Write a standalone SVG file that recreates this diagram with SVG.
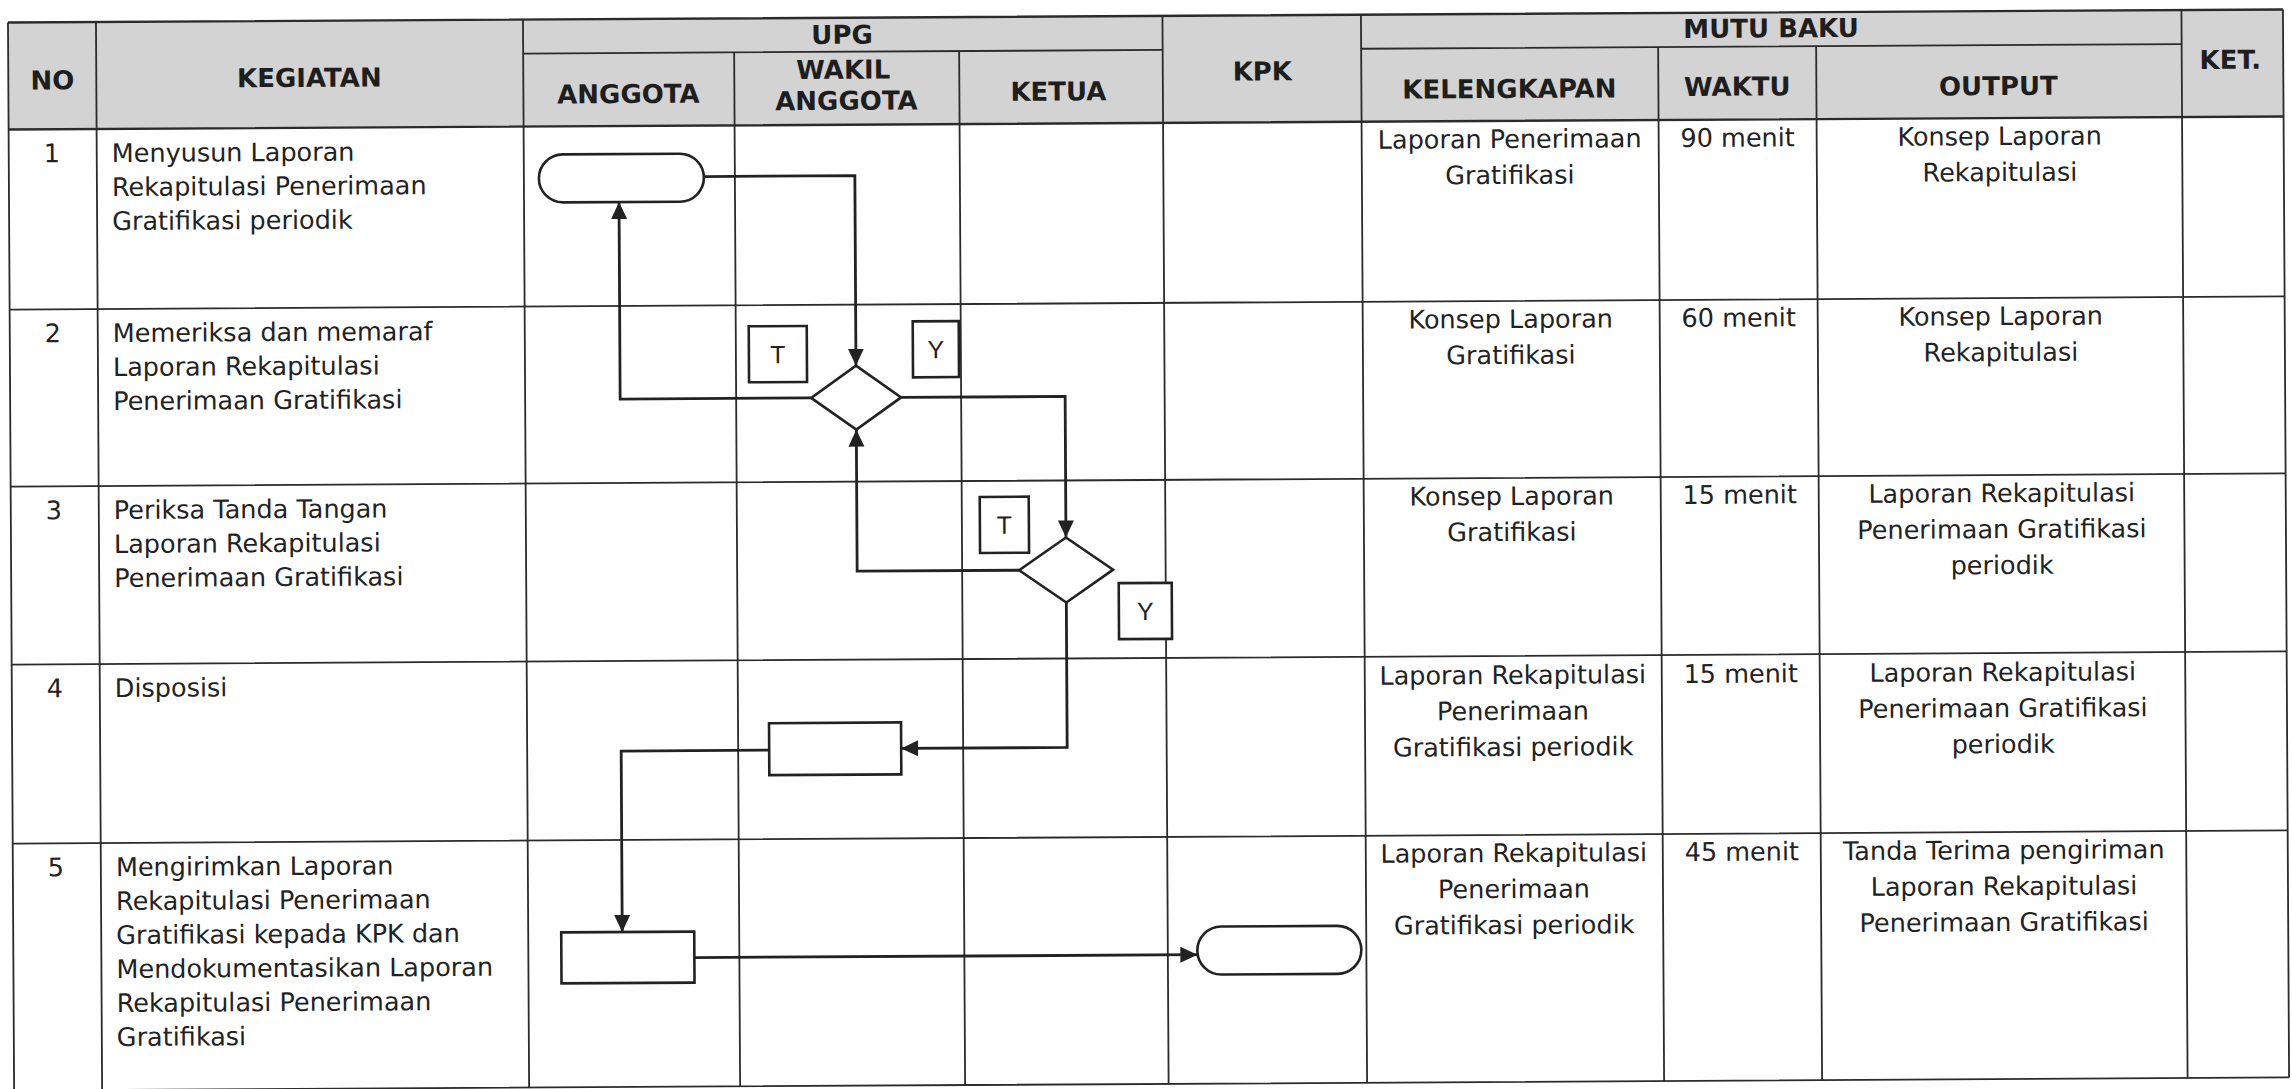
<svg xmlns="http://www.w3.org/2000/svg" width="2292" height="1089" viewBox="0 0 2292 1089">
<style>
.grid{stroke:#2b2b2b;stroke-width:1.8;fill:none}
.gridb{stroke:#2b2b2b;stroke-width:2.4;fill:none}
.hdr{font-family:'DejaVu Sans',Verdana,sans-serif;font-weight:bold;font-size:26px;fill:#1e1e1e;text-anchor:middle}
.txt{font-family:'DejaVu Sans',Verdana,sans-serif;font-size:25.5px;fill:#222}
.c{text-anchor:middle}
.shape{fill:#fff;stroke:#222;stroke-width:2.6}
.conn{fill:none;stroke:#222;stroke-width:2.8}
.lbl{font-family:'Liberation Sans',Arial,sans-serif;font-size:25px;fill:#222;text-anchor:middle}
</style>
<defs>
<marker id="arr" markerUnits="userSpaceOnUse" markerWidth="17" markerHeight="17" refX="17" refY="8.5" orient="auto" viewBox="0 0 17 17"><path d="M0,0.5 L17,8.5 L0,16.5 z" fill="#222"/></marker>
</defs>
<rect x="0" y="0" width="2292" height="1089" fill="#fff"/>
<g transform="rotate(-0.33 1146 545)">
<g id="table">
<rect x="11" y="16" width="2275" height="107" fill="#d3d3d3"/>
<path class="gridb" d="M11,16H2286M11,123H2286"/>
<path class="grid" d="M526,50H1165.5M1364,50H2184.5M11,303H2286M11,480H2286M11,658H2286M11,837H2286M11,1084H2286"/>
<path class="grid" d="M11,16V1084M99,16V1084M526,16V1084M737,50V1084M962,50V1084M1165.5,16V1084M1364,16V1084M1661,50V1084M1819,50V1084M2184.5,16V1084M2286,16V1084"/>
<text class="hdr" x="55" y="83">NO</text>
<text class="hdr" x="312" y="82">KEGIATAN</text>
<text class="hdr" x="845" y="42">UPG</text>
<text class="hdr" x="631" y="100">ANGGOTA</text>
<text class="hdr" x="846" y="77">WAKIL</text>
<text class="hdr" x="849" y="108">ANGGOTA</text>
<text class="hdr" x="1061" y="100">KETUA</text>
<text class="hdr" x="1265" y="81">KPK</text>
<text class="hdr" x="1774" y="41">MUTU BAKU</text>
<text class="hdr" x="1512" y="100">KELENGKAPAN</text>
<text class="hdr" x="1740" y="99">WAKTU</text>
<text class="hdr" x="2001" y="100">OUTPUT</text>
<text class="hdr" x="2233" y="75">KET.</text>
</g>
<g id="row1">
<text class="txt c" x="54" y="156">1</text>
<text class="txt" x="114" y="156">Menyusun Laporan</text>
<text class="txt" x="114" y="190">Rekapitulasi Penerimaan</text>
<text class="txt" x="114" y="224">Gratifikasi periodik</text>
<text class="txt c" x="1512" y="150">Laporan Penerimaan</text>
<text class="txt c" x="1512" y="186">Gratifikasi</text>
<text class="txt c" x="1740" y="150">90 menit</text>
<text class="txt c" x="2002" y="150">Konsep Laporan</text>
<text class="txt c" x="2002" y="186">Rekapitulasi</text>
</g>
<g id="row2">
<text class="txt c" x="54" y="336">2</text>
<text class="txt" x="114" y="336">Memeriksa dan memaraf</text>
<text class="txt" x="114" y="370">Laporan Rekapitulasi</text>
<text class="txt" x="114" y="404">Penerimaan Gratifikasi</text>
<text class="txt c" x="1512" y="330">Konsep Laporan</text>
<text class="txt c" x="1512" y="366">Gratifikasi</text>
<text class="txt c" x="1740" y="330">60 menit</text>
<text class="txt c" x="2002" y="330">Konsep Laporan</text>
<text class="txt c" x="2002" y="366">Rekapitulasi</text>
</g>
<g id="row3">
<text class="txt c" x="54" y="513">3</text>
<text class="txt" x="114" y="513">Periksa Tanda Tangan</text>
<text class="txt" x="114" y="547">Laporan Rekapitulasi</text>
<text class="txt" x="114" y="581">Penerimaan Gratifikasi</text>
<text class="txt c" x="1512" y="507">Konsep Laporan</text>
<text class="txt c" x="1512" y="543">Gratifikasi</text>
<text class="txt c" x="1740" y="507">15 menit</text>
<text class="txt c" x="2002" y="507">Laporan Rekapitulasi</text>
<text class="txt c" x="2002" y="543">Penerimaan Gratifikasi</text>
<text class="txt c" x="2002" y="579">periodik</text>
</g>
<g id="row4">
<text class="txt c" x="54" y="691">4</text>
<text class="txt" x="114" y="691">Disposisi</text>
<text class="txt c" x="1512" y="686">Laporan Rekapitulasi</text>
<text class="txt c" x="1512" y="722">Penerimaan</text>
<text class="txt c" x="1512" y="758">Gratifikasi periodik</text>
<text class="txt c" x="1740" y="686">15 menit</text>
<text class="txt c" x="2002" y="686">Laporan Rekapitulasi</text>
<text class="txt c" x="2002" y="722">Penerimaan Gratifikasi</text>
<text class="txt c" x="2002" y="758">periodik</text>
</g>
<g id="row5">
<text class="txt c" x="54" y="870">5</text>
<text class="txt" x="114" y="870">Mengirimkan Laporan</text>
<text class="txt" x="114" y="904">Rekapitulasi Penerimaan</text>
<text class="txt" x="114" y="938">Gratifikasi kepada KPK dan</text>
<text class="txt" x="114" y="972">Mendokumentasikan Laporan</text>
<text class="txt" x="114" y="1006">Rekapitulasi Penerimaan</text>
<text class="txt" x="114" y="1040">Gratifikasi</text>
<text class="txt c" x="1512" y="864">Laporan Rekapitulasi</text>
<text class="txt c" x="1512" y="900">Penerimaan</text>
<text class="txt c" x="1512" y="936">Gratifikasi periodik</text>
<text class="txt c" x="1740" y="864">45 menit</text>
<text class="txt c" x="2002" y="864">Tanda Terima pengiriman</text>
<text class="txt c" x="2002" y="900">Laporan Rekapitulasi</text>
<text class="txt c" x="2002" y="936">Penerimaan Gratifikasi</text>
</g>
<g id="connectors">
<path class="conn" d="M706,174H857V364" marker-end="url(#arr)"/>
<path class="conn" d="M812,396H621V199" marker-end="url(#arr)"/>
<path class="conn" d="M902,396H1066V537" marker-end="url(#arr)"/>
<path class="conn" d="M1019,569.5H857V428" marker-end="url(#arr)"/>
<path class="conn" d="M1066,602V747H900" marker-end="url(#arr)"/>
<path class="conn" d="M768,748H620V929" marker-end="url(#arr)"/>
<path class="conn" d="M692,955H1195" marker-end="url(#arr)"/>
</g>
<g id="start"><rect class="shape" x="541" y="151" width="165" height="48" rx="24"/></g>
<g id="decision1"><polygon class="shape" points="857,364 902,396 857,428 812,396"/></g>
<g id="label-t1"><rect class="shape" x="750" y="324" width="58" height="56"/><text class="lbl" x="779" y="361">T</text></g>
<g id="label-y1"><rect class="shape" x="914" y="320" width="46" height="56"/><text class="lbl" x="937" y="357">Y</text></g>
<g id="decision2"><polygon class="shape" points="1066,537 1113,569.5 1066,602 1019,569.5"/></g>
<g id="label-t2"><rect class="shape" x="980" y="496" width="49" height="56"/><text class="lbl" x="1004.5" y="533">T</text></g>
<g id="label-y2"><rect class="shape" x="1118.5" y="583" width="53" height="56"/><text class="lbl" x="1145" y="620">Y</text></g>
<g id="process1"><rect class="shape" x="768" y="721" width="132" height="52"/></g>
<g id="process2"><rect class="shape" x="559" y="929" width="133" height="51"/></g>
<g id="end"><rect class="shape" x="1195" y="927" width="164" height="48" rx="24"/></g>
</g>
</svg>
